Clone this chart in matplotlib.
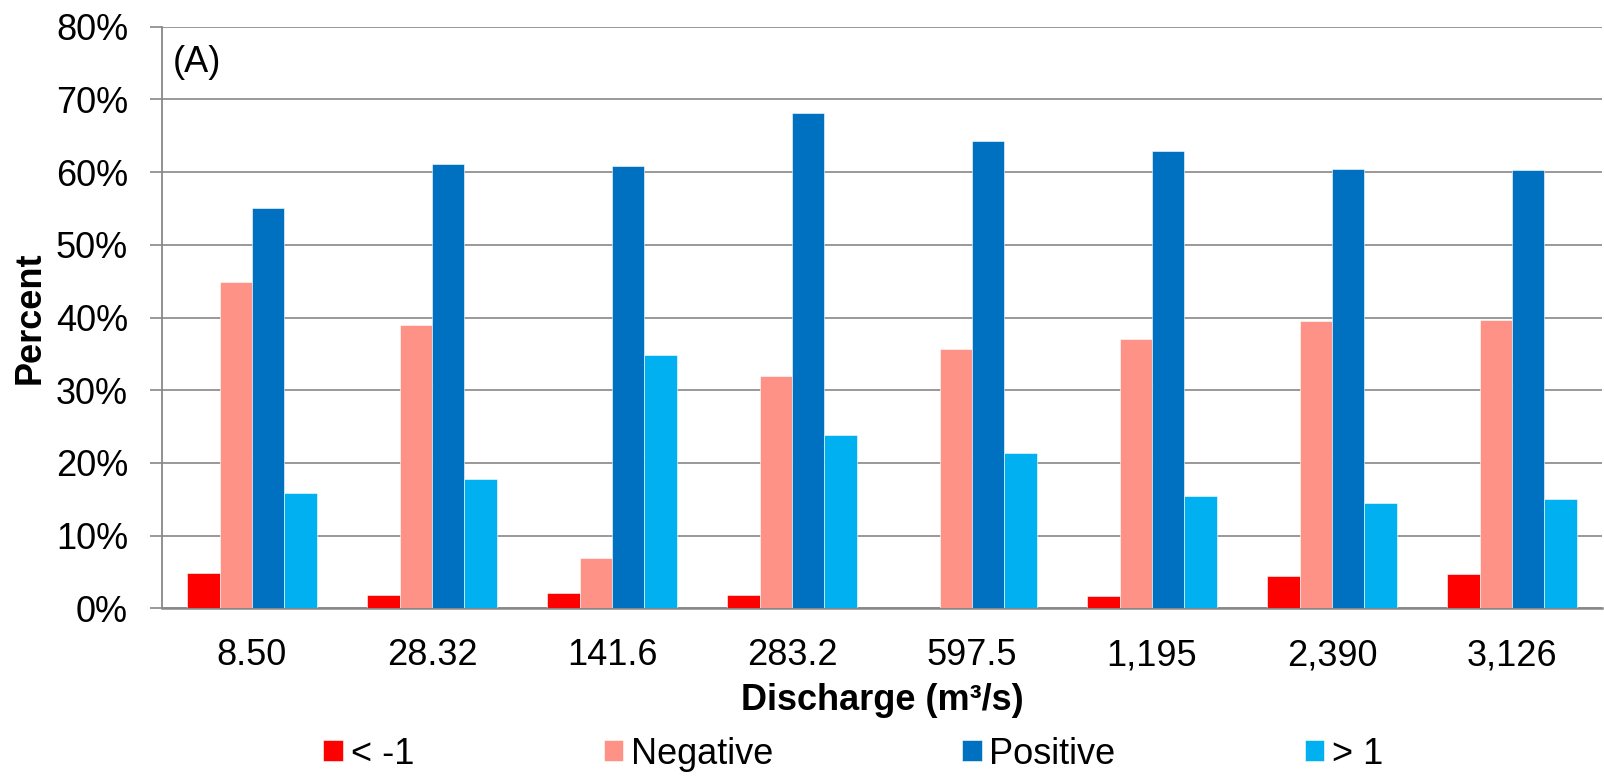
import matplotlib
matplotlib.use("Agg")
import matplotlib.pyplot as plt
import numpy as np
from matplotlib.ticker import PercentFormatter

discharge = ["8.50", "28.32", "141.6", "283.2", "597.5", "1,195", "2,390", "3,126"]
below_minus1 = [4.8, 1.8, 2.15, 1.8, 0.0, 1.75, 4.5, 4.75]
negative = [44.9, 38.9, 6.9, 31.9, 35.65, 37.0, 39.5, 39.6]
positive = [55.0, 61.1, 60.9, 68.1, 64.3, 62.9, 60.4, 60.35]
above_1 = [15.8, 17.8, 34.8, 23.8, 21.3, 15.5, 14.55, 15.0]

series = [
    ("< -1", below_minus1, "#FF0000"),
    ("Negative", negative, "#FF9286"),
    ("Positive", positive, "#0070C0"),
    ("> 1", above_1, "#00B0F0"),
]

plt.rcParams["font.family"] = ["Liberation Sans", "DejaVu Sans"]
FS = 26
GRID = "#888888"

fig = plt.figure(figsize=(16.04, 7.76), dpi=100)
ax = fig.add_axes([162 / 1604, 1 - 608.3 / 776, 1440 / 1604, (608.3 - 26.7) / 776])

x = np.arange(len(discharge))
w = 0.18
for i, (name, vals, color) in enumerate(series):
    ax.bar(x + (i - 1.5) * w, vals, width=w, color=color, label=name,
           edgecolor="white", linewidth=0.4, zorder=3)

ax.set_xlim(-0.5, len(discharge) - 0.5)
ax.set_ylim(0, 80)
ax.set_yticks(np.arange(0, 81, 10))
ax.yaxis.set_major_formatter(PercentFormatter(xmax=100, decimals=0))
ax.set_xticks(x)
ax.set_xticklabels(discharge)

ax.yaxis.grid(True, color=GRID, linewidth=1.2)
ax.set_axisbelow(True)
for s in ["top", "right"]:
    ax.spines[s].set_visible(False)
ax.spines["left"].set_color(GRID)
ax.spines["left"].set_linewidth(1.3)
ax.spines["bottom"].set_color(GRID)
ax.spines["bottom"].set_linewidth(1.8)

ax.tick_params(axis="y", labelsize=FS, length=8.6, width=1.2, color=GRID, pad=15.8)
ax.tick_params(axis="x", labelsize=FS, length=0, pad=21.5)

ax.set_xlabel("Discharge (m³/s)", fontsize=FS, fontweight="bold", va="center")
ax.xaxis.set_label_coords(0.5, (608.3 - 700) / 581.6)
ax.set_ylabel("Percent", fontsize=FS, fontweight="bold", va="center")
ax.yaxis.set_label_coords((30 - 162) / 1440, 0.5)

ax.text(11 / 1440, 1 - (63 - 26.7) / 581.6, "(A)", transform=ax.transAxes,
        fontsize=FS, ha="left", va="center")

fig.legend(loc="center", bbox_to_anchor=(853.5 / 1604, 1 - 754 / 776), ncol=4,
           frameon=False, fontsize=FS, handlelength=0.53, handleheight=0.53,
           handletextpad=0.22, columnspacing=5.25, borderpad=0)

fig.savefig("out.png", dpi=100)
plt.close(fig)
